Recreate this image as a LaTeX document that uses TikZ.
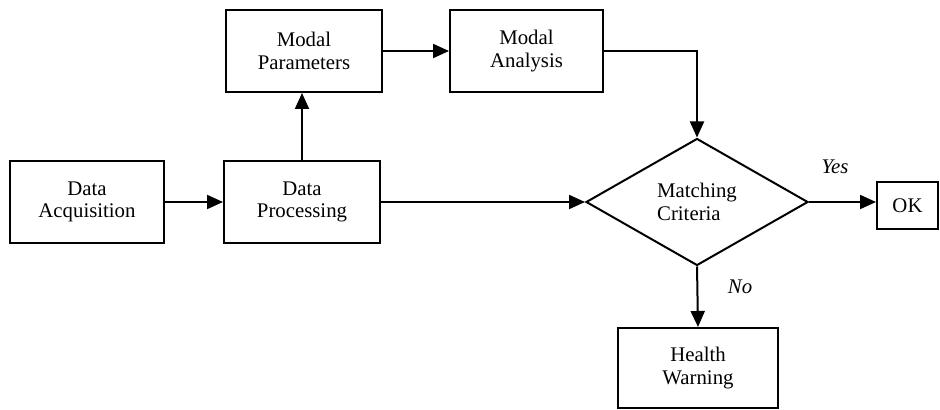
\documentclass[tikz,border=0pt]{standalone}
\usepackage{fontspec}
\setmainfont{Liberation Serif}
\usetikzlibrary{arrows.meta,shapes.geometric}
\begin{document}
\begin{tikzpicture}[x=0.5pt,y=-0.5pt,
  every node/.style={font=\fontsize{10.4}{11.35}\selectfont},
  box/.style={draw, line width=1pt, align=center, inner sep=0pt},
  decision/.style={draw, line width=1pt, diamond, aspect=1.75, inner sep=0pt,
    minimum width=111pt, minimum height=63.5pt, align=left},
  arr/.style={line width=1pt, -{Triangle[length=8pt,width=7pt]}},
  lbl/.style={font=\fontsize{10.4}{11.35}\selectfont\itshape}]
\useasboundingbox (0,0) rectangle (940,410);
\node[box, minimum width=77pt, minimum height=41pt] (acq) at (87,202) {Data\\Acquisition};
\node[box, minimum width=78pt, minimum height=41pt] (proc) at (302,202) {Data\\Processing};
\node[box, minimum width=78pt, minimum height=41pt] (par) at (304,51) {Modal\\Parameters};
\node[box, minimum width=76.5pt, minimum height=41pt] (ana) at (526.5,51) {Modal\\Analysis};
\node[decision] (dia) at (697,202) {Matching\\Criteria};
\node[box, minimum width=30.5pt, minimum height=23.5pt] (ok) at (907.5,205.5) {OK};
\node[box, minimum width=80pt, minimum height=40pt] (hw) at (698,368) {Health\\Warning};
\draw[arr] (acq.east) -- (acq.east -| proc.west);
\draw[arr] (proc.north) -- (proc.north |- par.south);
\draw[arr] (par.east) -- (par.east -| ana.west);
\draw[arr] (ana.east) -- (ana.east -| dia.north) -- (dia.north);
\draw[arr] (proc.east) -- (dia.west);
\draw[arr] (dia.east) -- (dia.east -| ok.west);
\draw[arr] (dia.south) -- (hw.north);
\node[lbl] (yes) at (835,167) {Yes};
\node[lbl] (no) at (740,287) {No};
\end{tikzpicture}
\end{document}
